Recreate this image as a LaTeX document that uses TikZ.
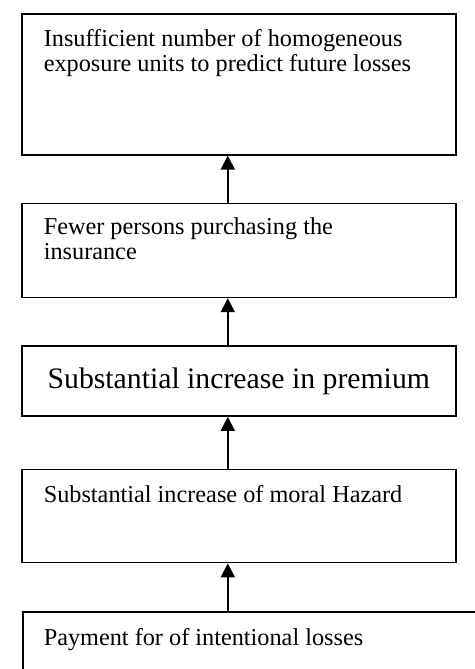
\documentclass[tikz,border=0pt]{standalone}
\usepackage{fontspec}
\setmainfont{Liberation Serif}
\usetikzlibrary{arrows.meta, positioning}
\tikzstyle{line} = [draw, line width=1.4pt, -{Triangle[length=10.5pt, width=10.5pt]}]

\begin{document}
\begin{tikzpicture}[node distance=35.25pt, line width=1.2pt]
  % Define styles
  \tikzstyle{block} = [rectangle, draw=black, fill=white, minimum width=325.5pt, inner sep=0pt]
  \tikzstyle{caption} = [inner sep=0pt, align=left, font=\fontsize{18.2pt}{19pt}\selectfont]
  \tikzstyle{bigcaption} = [font=\fontsize{22.3pt}{24pt}\selectfont]

  % Place boxes
  \node [block, minimum height=105.75pt] (insufficient) {};
  \useasboundingbox ([shift={(-15.75pt,9.75pt)}]insufficient.north west) rectangle ++(356.25pt,-501.75pt);
  \node [block, below=of insufficient, minimum height=70.5pt] (fewer) {};
  \node [block, bigcaption, below=of fewer, minimum height=52.5pt] (premium) {Substantial increase in premium};
  \node [block, below=39pt of premium, minimum height=69.75pt] (moral) {};
  \node [block, below right=36pt and 0.75pt of moral.south west, minimum width=345pt, minimum height=75pt] (payment) {};

  % Place texts
  \node [caption, below right=11.8pt and 16.5pt of insufficient.north west] (insufficienttext)
    {Insufficient number of homogeneous\\exposure units to predict future losses};
  \node [caption, below right=10.8pt and 16.5pt of fewer.north west] (fewertext)
    {Fewer persons purchasing the\\insurance};
  \node [caption, below right=11.8pt and 16.5pt of moral.north west] (moraltext)
    {Substantial increase of moral Hazard};
  \node [caption, below right=11.8pt and 15.75pt of payment.north west] (paymenttext)
    {Payment for of intentional losses};

  % Draw edges
  \coordinate (arrowx) at ([xshift=-8.25pt]moral.south);
  \path [line] ([xshift=-8.25pt]fewer.north) -- ([xshift=-8.25pt]insufficient.south);
  \path [line] ([xshift=-8.25pt]premium.north) -- ([xshift=-8.25pt]fewer.south);
  \path [line] ([xshift=-8.25pt]moral.north) -- ([xshift=-8.25pt]premium.south);
  \path [line] (arrowx |- payment.north) -- (arrowx);
\end{tikzpicture}
\end{document}
